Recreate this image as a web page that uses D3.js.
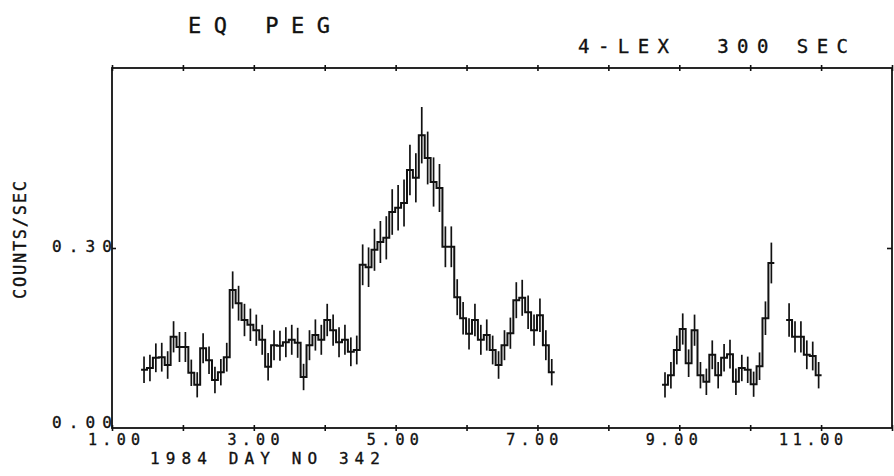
<!DOCTYPE html>
<html>
<head>
<meta charset="utf-8">
<script src="https://cdn.jsdelivr.net/npm/d3@7/dist/d3.min.js"></script>
<style>
body{margin:0;background:#fff;}
text{font-family:"DejaVu Sans Mono",monospace;fill:#111;stroke:#111;stroke-width:0.35;}
</style>
</head>
<body>
<svg id="Mainback"></svg>
<script>
var W=894, H=476;

// 300 sec bins, time in hours of day 342
var BIN_HOURS=300/3600;
var SEG1_START=1.41;
var SEG1_RATE=[0.097,0.100,0.117,0.118,0.105,0.152,0.135,0.135,0.092,0.072,
               0.133,0.113,0.080,0.093,0.118,0.230,0.208,0.180,0.172,0.163,
               0.147,0.102,0.138,0.137,0.143,0.147,0.142,0.085,0.138,0.155,
               0.147,0.180,0.163,0.143,0.147,0.127,0.130,0.272,0.268,0.297,
               0.310,0.317,0.360,0.367,0.375,0.430,0.417,0.488,0.450,0.410,
               0.400,0.302,0.302,0.218,0.183,0.157,0.180,0.147,0.155,0.130,
               0.105,0.138,0.158,0.213,0.217,0.193,0.163,0.188,0.138,0.093];
var SEG1_ERR=[0.022,0.022,0.024,0.024,0.023,0.026,0.025,0.025,0.022,0.021,
              0.025,0.023,0.022,0.022,0.024,0.031,0.029,0.027,0.027,0.026,
              0.025,0.023,0.025,0.025,0.025,0.025,0.025,0.022,0.025,0.026,
              0.025,0.027,0.026,0.025,0.025,0.024,0.024,0.034,0.033,0.035,
              0.035,0.036,0.038,0.038,0.039,0.042,0.041,0.047,0.044,0.041,
              0.040,0.034,0.034,0.030,0.027,0.026,0.027,0.025,0.026,0.024,
              0.023,0.025,0.026,0.030,0.030,0.028,0.026,0.028,0.025,0.022];
var SEG2_START=8.757;
var SEG2_RATE=[0.072,0.088,0.130,0.165,0.108,0.163,0.088,0.077,0.122,0.088,
               0.117,0.123,0.077,0.100,0.097,0.073,0.103,0.183,0.275,null,
               null,0.180,0.152,0.152,0.122,0.120,0.088];
var SEG2_ERR=[0.021,0.022,0.024,0.026,0.023,0.026,0.022,0.022,0.024,0.022,
              0.023,0.024,0.022,0.022,0.022,0.021,0.023,0.028,0.034,null,
              null,0.028,0.026,0.026,0.024,0.024,0.022];

var XTICKS=[1,2,3,4,5,6,7,8,9,10,11,12];
var XLABELS=[1,3,5,7,9,11];
var YLABELS=[0,0.3];

var LEFT=112, RIGHT=892, TOP=68, BOTTOM=428;

var SVG=d3.select("svg#Mainback").attr("width",W).attr("height",H);

var x=d3.scaleLinear().domain([1,12]).range([LEFT,RIGHT]);
var y=d3.scaleLinear().domain([0,0.6]).range([BOTTOM,TOP]);

function BINS(start,rates,errs){
  return rates.map(function(r,i){
    return {t0:start+i*BIN_HOURS, t1:start+(i+1)*BIN_HOURS, v:r, e:errs[i]};
  });
}
var SEGMENTS=[BINS(SEG1_START,SEG1_RATE,SEG1_ERR),BINS(SEG2_START,SEG2_RATE,SEG2_ERR)];

//frame and ticks
var AX=SVG.append("g").attr("stroke","#111").attr("fill","none");
AX.append("rect")
  .attr("x",LEFT).attr("y",TOP)
  .attr("width",RIGHT-LEFT).attr("height",BOTTOM-TOP)
  .attr("stroke-width",1.8);

AX.append("g").attr("transform","translate(0,"+(TOP+3)+")")
  .call(d3.axisTop(x).tickValues(XTICKS).tickSize(6).tickFormat(""));
AX.append("g").attr("transform","translate(0,"+(BOTTOM-3)+")")
  .call(d3.axisBottom(x).tickValues(XTICKS).tickSize(6).tickFormat(""));
AX.append("g").attr("transform","translate("+LEFT+",0)")
  .call(d3.axisRight(y).tickValues([0.3]).tickSize(4).tickFormat(""));
AX.append("g").attr("transform","translate("+RIGHT+",0)")
  .call(d3.axisLeft(y).tickValues([0.3]).tickSize(5).tickFormat(""));
SVG.selectAll(".domain").remove();
SVG.selectAll(".tick line").attr("stroke","#111").attr("stroke-width",1.6);

//step light curve
var line=d3.line()
  .defined(function(d){return d.v!==null;})
  .x(function(d){return x(d.t);})
  .y(function(d){return y(d.v);});

SEGMENTS.forEach(function(seg){
  var pts=[];
  seg.forEach(function(b){
    pts.push({t:b.t0,v:b.v});
    pts.push({t:b.t1,v:b.v});
  });
  SVG.append("path")
     .datum(pts)
     .attr("d",line)
     .attr("fill","none")
     .attr("stroke","#111")
     .attr("stroke-width",2);

  SVG.append("g").selectAll("line")
     .data(seg.filter(function(b){return b.v!==null;}))
     .enter().append("line")
     .attr("x1",function(b){return x((b.t0+b.t1)/2);})
     .attr("x2",function(b){return x((b.t0+b.t1)/2);})
     .attr("y1",function(b){return y(b.v-b.e);})
     .attr("y2",function(b){return y(b.v+b.e);})
     .attr("stroke","#111")
     .attr("stroke-width",1.7);
});

//texts
SVG.append("text").attr("x",188).attr("y",33)
   .attr("font-size",22).attr("textLength",142).attr("lengthAdjust","spacing")
   .text("EQ PEG");
SVG.append("text").attr("x",578).attr("y",53)
   .attr("font-size",19).attr("textLength",270).attr("lengthAdjust","spacing")
   .attr("xml:space","preserve")
   .text("4-LEX  300 SEC");

SVG.selectAll("text.xlab")
   .data(XLABELS).enter().append("text")
   .attr("class","xlab")
   .attr("x",function(d){return x(d)-(d-1)*1.2+2;})
   .attr("y",445)
   .attr("font-size",15)
   .attr("text-anchor","middle")
   .attr("textLength",function(d){return d>=10?64:52;})
   .attr("lengthAdjust","spacing")
   .text(function(d){return d3.format(".2f")(d);});

SVG.append("text").attr("x",150).attr("y",464)
   .attr("font-size",16).attr("textLength",230).attr("lengthAdjust","spacing")
   .text("1984 DAY NO 342");

SVG.selectAll("text.ylab")
   .data(YLABELS).enter().append("text")
   .attr("class","ylab")
   .attr("x",52)
   .attr("y",function(d){return y(d)+(d===0?0:4);})
   .attr("font-size",16)
   .attr("textLength",60)
   .attr("lengthAdjust","spacing")
   .text(function(d){return d3.format(".2f")(d);});

SVG.append("text")
   .attr("transform","translate(26,240) rotate(-90)")
   .attr("text-anchor","middle")
   .attr("font-size",17).attr("textLength",118).attr("lengthAdjust","spacing")
   .text("COUNTS/SEC");
</script>
</body>
</html>
